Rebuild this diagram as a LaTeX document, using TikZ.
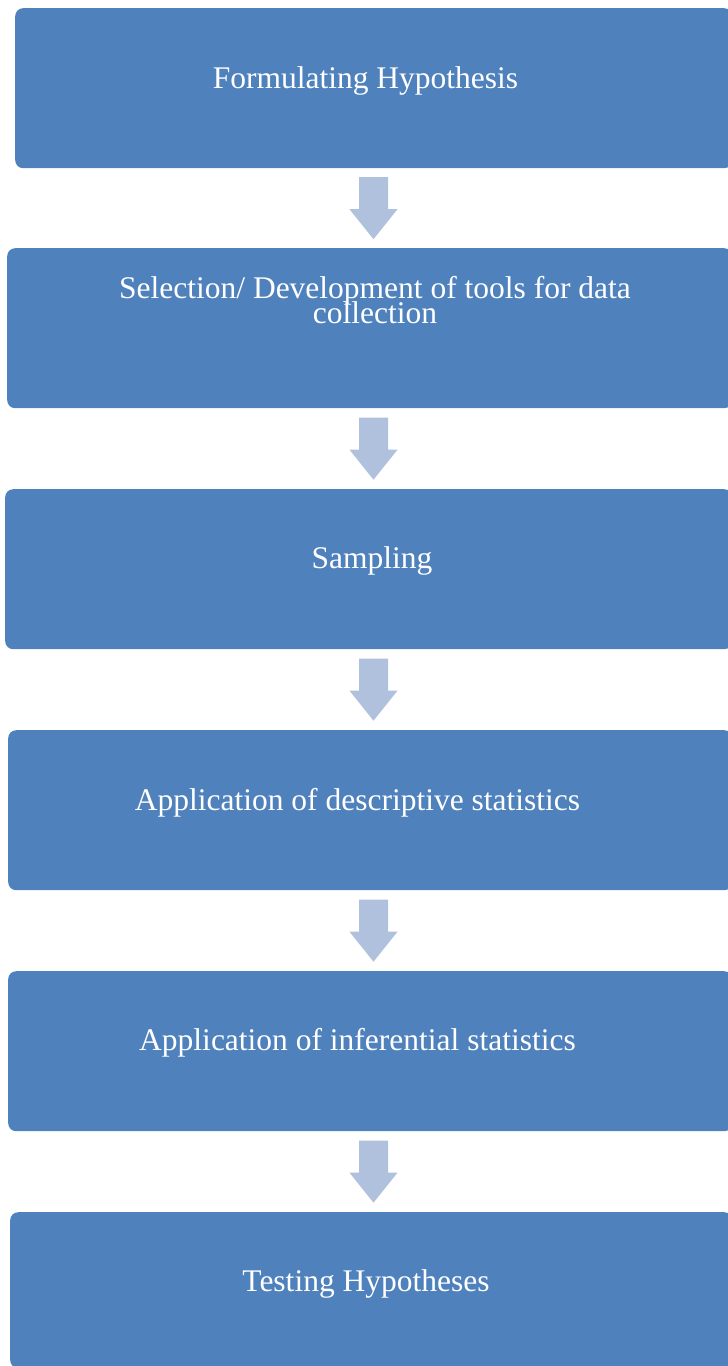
\documentclass[tikz,border=0pt]{standalone}
\usepackage{fontspec}
\setmainfont{Liberation Serif}
\usetikzlibrary{calc}
\definecolor{stepblue}{HTML}{4F81BD}
\definecolor{arrowblue}{HTML}{B0C1DD}
\tikzset{
  stepbox/.style={fill=stepblue, draw=none, rounded corners=8pt, inner sep=0pt,
                  anchor=north west, minimum height=160pt},
  steptext/.style={text=white, font=\fontsize{31.5}{24}\selectfont, anchor=base,
                   align=center, inner sep=0pt},
  flowarrow/.style={fill=arrowblue, draw=none}
}
% downward block arrow centred on a coordinate
\newcommand{\blockarrow}[1]{%
  \fill[flowarrow] (#1) ++(-14.5,-31) -- ++(29,0) -- ++(0,32) -- ++(9.5,0)
    -- ++(-24,30) -- ++(-24,-30) -- ++(9.5,0) -- cycle;}
\begin{document}
\begin{tikzpicture}[x=1pt,y=-1pt]
  \useasboundingbox (0,0) rectangle (728,1366);
  \clip (0,0) rectangle (728,1366);

  % process steps
  \node[stepbox, minimum width=717pt] (b1) at (15,8) {};
  \node[stepbox, minimum width=725pt] (b2) at (7,248) {};
  \node[stepbox, minimum width=727pt] (b3) at (5,489) {};
  \node[stepbox, minimum width=724pt] (b4) at (8,730) {};
  \node[stepbox, minimum width=724pt] (b5) at (8,971) {};
  \node[stepbox, minimum width=722pt, minimum height=156pt] (b6) at (10,1212) {};

  \node[steptext] (t1) at (365.5,88) {Formulating Hypothesis};
  \node[steptext] (t2) at (375,298) {Selection/ Development of tools for data};
  \node[steptext] (t2b) at (375,323) {collection};
  \node[steptext] (t3) at (372,568) {Sampling};
  \node[steptext] (t4) at (357.5,810) {Application of descriptive statistics};
  \node[steptext] (t5) at (357.5,1050) {Application of inferential statistics};
  \node[steptext] (t6) at (366,1291) {Testing Hypotheses};

  % connectors between consecutive steps
  \coordinate (ax) at (373.5,0);
  \foreach \a/\b [count=\i] in {b1/b2,b2/b3,b3/b4,b4/b5,b5/b6}{
    \path (\a.south -| ax) -- (\b.north -| ax) coordinate[pos=0.5] (m\i);
    \blockarrow{m\i}
  }
\end{tikzpicture}
\end{document}
